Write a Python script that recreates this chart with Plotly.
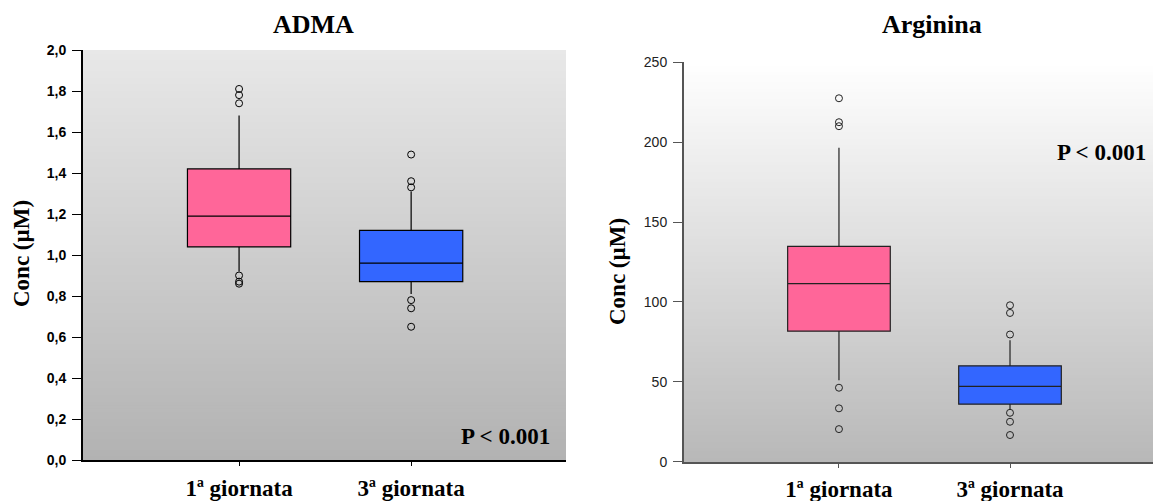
import plotly.graph_objects as go

# ---------------- data ----------------
categories = ["1ª giornata", "3ª giornata"]

adma_q1 = [1.04, 0.87]
adma_median = [1.19, 0.96]
adma_q3 = [1.42, 1.12]
adma_lowerfence = [0.92, 0.81]
adma_upperfence = [1.68, 1.31]
adma_outliers = [
    [1.81, 1.78, 1.74, 0.90, 0.87, 0.86],
    [1.49, 1.36, 1.33, 0.78, 0.74, 0.65],
]

arg_q1 = [81.7, 36.0]
arg_median = [111.5, 47.1]
arg_q3 = [134.8, 60.0]
arg_lowerfence = [51.0, 32.5]
arg_upperfence = [196.5, 76.0]
arg_outliers = [
    [227.5, 212.5, 210.0, 46.3, 33.4, 20.4],
    [97.9, 93.1, 79.6, 30.6, 25.0, 16.7],
]

adma_ticks = [0.0, 0.2, 0.4, 0.6, 0.8, 1.0, 1.2, 1.4, 1.6, 1.8, 2.0]
arg_ticks = [0, 50, 100, 150, 200, 250]

box_colors = ["#ff6699", "#3366ff"]

W, H = 1153, 501
SERIF = "Liberation Serif, Times New Roman, serif"
SANS = "Liberation Sans, Arial, sans-serif"

fig = go.Figure()

# ---------------- traces ----------------
for i, cat in enumerate(categories):
    fig.add_trace(go.Box(
        x=[cat], q1=[adma_q1[i]], median=[adma_median[i]], q3=[adma_q3[i]],
        lowerfence=[adma_lowerfence[i]], upperfence=[adma_upperfence[i]],
        fillcolor=box_colors[i], line=dict(color="#000000", width=1.2),
        whiskerwidth=0, width=0.6, boxpoints=False, showlegend=False,
        xaxis="x", yaxis="y", hoverinfo="skip",
    ))
    fig.add_trace(go.Scatter(
        x=[cat] * len(adma_outliers[i]), y=adma_outliers[i], mode="markers",
        marker=dict(symbol="circle-open", size=7, color="#000000", line=dict(width=1)),
        showlegend=False, xaxis="x", yaxis="y", hoverinfo="skip",
    ))
    fig.add_trace(go.Box(
        x=[cat], q1=[arg_q1[i]], median=[arg_median[i]], q3=[arg_q3[i]],
        lowerfence=[arg_lowerfence[i]], upperfence=[arg_upperfence[i]],
        fillcolor=box_colors[i], line=dict(color="#222222", width=1.2),
        whiskerwidth=0, width=0.6, boxpoints=False, showlegend=False,
        xaxis="x2", yaxis="y2", hoverinfo="skip",
    ))
    fig.add_trace(go.Scatter(
        x=[cat] * len(arg_outliers[i]), y=arg_outliers[i], mode="markers",
        marker=dict(symbol="circle-open", size=7, color="#222222", line=dict(width=1)),
        showlegend=False, xaxis="x2", yaxis="y2", hoverinfo="skip",
    ))

# ---------------- gradient backgrounds ----------------
def lerp(c1, c2, t):
    return tuple(round(a + (b - a) * t) for a, b in zip(c1, c2))

shapes = []
N = 120
for xr, yr, top, bot in [("x domain", "y domain", (232, 232, 232), (178, 178, 178)),
                         ("x2 domain", "y2 domain", (255, 255, 255), (184, 184, 184))]:
    for k in range(N):
        t = (k + 0.5) / N
        c = lerp(top, bot, t)
        shapes.append(dict(
            type="rect", xref=xr, yref=yr, x0=0, x1=1,
            y0=1 - (k + 1) / N - 0.002, y1=1 - k / N,
            fillcolor="rgb(%d,%d,%d)" % c, line=dict(width=0), layer="below",
        ))

# ---------------- layout ----------------
def px_x(p):
    return p / W

def px_y(p):
    return 1 - p / H

xaxis_common = dict(
    type="category", showgrid=False, zeroline=False, showline=True,
    ticks="outside", ticklen=4, automargin=False, fixedrange=True,
    tickfont=dict(family=SERIF, size=23, color="#000000", weight="bold"),
    ticklabelstandoff=2,
)

def ann(text, x, y, size, angle=0):
    return dict(text=text, x=px_x(x), y=px_y(y), xref="paper", yref="paper",
                xanchor="center", yanchor="middle", showarrow=False, textangle=angle,
                font=dict(family=SERIF, size=size, color="#000", weight="bold"))

fig.update_layout(
    width=W, height=H,
    margin=dict(l=0, r=0, t=0, b=0),
    paper_bgcolor="white", plot_bgcolor="rgba(0,0,0,0)",
    separators=",.", boxmode="overlay", showlegend=False,
    shapes=shapes,
    xaxis=dict(**xaxis_common, domain=[px_x(83), px_x(566)], range=[-0.907, 1.90],
               linecolor="#000000", linewidth=2, tickcolor="#000000", anchor="y"),
    yaxis=dict(domain=[px_y(460), px_y(50)], range=[0, 2], tickvals=adma_ticks,
               tickformat=".1f", showgrid=False, zeroline=False, showline=True,
               linecolor="#000000", linewidth=2, ticks="outside", ticklen=9,
               tickcolor="#000000", automargin=False, anchor="x", ticklabelstandoff=3,
               tickfont=dict(family=SANS, size=14, color="#000000", weight="bold")),
    xaxis2=dict(**xaxis_common, domain=[px_x(684), 1.0], range=[-0.906, 1.836],
                linecolor="#555555", linewidth=2, tickcolor="#555555", anchor="y2"),
    yaxis2=dict(domain=[px_y(461.7), px_y(62.3)], range=[0, 250], tickvals=arg_ticks,
                showgrid=False, zeroline=False, showline=True,
                linecolor="#555555", linewidth=2, ticks="outside", ticklen=9,
                tickcolor="#555555", automargin=False, anchor="x2", ticklabelstandoff=3,
                tickfont=dict(family=SANS, size=14, color="#222222")),
    annotations=[
        ann("ADMA", 313, 25, 26),
        ann("Arginina", 932, 25, 26),
        ann("Conc (µM)", 22, 254, 23, -90),
        ann("Conc (µM)", 617, 272, 23, -90),
        ann("P &lt; 0.001", 505, 436, 23),
        ann("P &lt; 0.001", 1101, 152, 23),
    ],
)

fig.write_html("out.html")
